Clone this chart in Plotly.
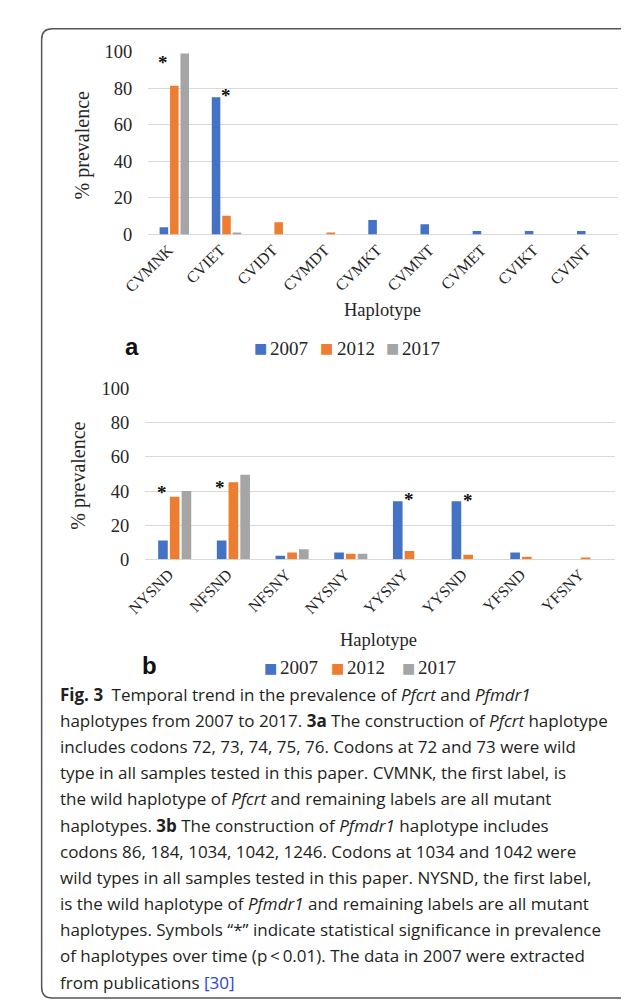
import plotly.graph_objects as go

# ---------------- data ----------------
years = ["2007", "2012", "2017"]
colors = ["#4472C4", "#ED7D31", "#A5A5A5"]

hap_a = ["CVMNK", "CVIET", "CVIDT", "CVMDT", "CVMKT", "CVMNT", "CVMET", "CVIKT", "CVINT"]
a_2007 = [4, 75, 0, 0, 8, 5.6, 2, 2, 2]
a_2012 = [81.3, 10.3, 6.7, 1, 0, 0, 0, 0, 0]
a_2017 = [99, 1, 0, 0, 0, 0, 0, 0, 0]

hap_b = ["NYSND", "NFSND", "NFSNY", "NYSNY", "YYSNY", "YYSND", "YFSND", "YFSNY"]
b_2007 = [11, 11, 2.1, 4, 34.1, 34.1, 4, 0]
b_2012 = [36.6, 45.2, 4, 3.3, 4.8, 2.7, 1.5, 1]
b_2017 = [40, 49.6, 5.9, 3.3, 0, 0, 0, 0]

# significance markers: (haplotype, bar offset within group, height)
sig_a = [("CVMNK", -1, 96.6), ("CVIET", 0, 79)]
sig_b = [("NYSND", -1, 42), ("NFSND", -1, 44.8), ("YYSNY", 0, 38), ("YYSND", 0, 37.4)]

y_ticks = [0, 20, 40, 60, 80, 100]

caption_lines = [
    "<b>Fig. 3</b>\u2002Temporal trend in the prevalence of <i>Pfcrt</i> and <i>Pfmdr1</i>",
    "haplotypes from 2007 to 2017. <b>3a</b> The construction of <i>Pfcrt</i> haplotype",
    "includes codons 72, 73, 74, 75, 76. Codons at 72 and 73 were wild",
    "type in all samples tested in this paper. CVMNK, the first label, is",
    "the wild haplotype of <i>Pfcrt</i> and remaining labels are all mutant",
    "haplotypes. <b>3b</b> The construction of <i>Pfmdr1</i> haplotype includes",
    "codons 86, 184, 1034, 1042, 1246. Codons at 1034 and 1042 were",
    "wild types in all samples tested in this paper. NYSND, the first label,",
    "is the wild haplotype of <i>Pfmdr1</i> and remaining labels are all mutant",
    "haplotypes. Symbols \u201c*\u201d indicate statistical significance in prevalence",
    "of haplotypes over time (p\u2009<\u20090.01). The data in 2007 were extracted",
    "from publications <span style='color:#2B45D6'>[30]</span>",
]

# ---------------- layout helpers ----------------
W, H = 629, 1002
def px(x):
    return x / W
def py(y):
    return 1 - y / H

SERIF = "Liberation Serif, Times New Roman, serif"
SANS = "Open Sans, Noto Sans, sans-serif"
TXT = "#262626"

fig = go.Figure()

for yr, col, vals in zip(years, colors, [a_2007, a_2012, a_2017]):
    fig.add_trace(go.Bar(x=hap_a, y=vals, name=yr, marker=dict(color=col, line=dict(width=0)),
                         xaxis="x", yaxis="y", showlegend=False, hoverinfo="skip"))
for yr, col, vals in zip(years, colors, [b_2007, b_2012, b_2017]):
    fig.add_trace(go.Bar(x=hap_b, y=vals, name=yr, marker=dict(color=col, line=dict(width=0)),
                         xaxis="x2", yaxis="y2", showlegend=False, hoverinfo="skip"))

xcommon = dict(type="category", tickangle=-45, showgrid=False, showline=False, ticks="",
               zeroline=False, ticklabelshift=-6, ticklabelstandoff=2,
               tickfont=dict(family=SERIF, size=16, color=TXT))
ycommon = dict(range=[0, 100], tickvals=y_ticks, showgrid=True, gridcolor="#d9d9d9", gridwidth=1.3,
               zeroline=True, zerolinecolor="#d9d9d9", zerolinewidth=1.3, showline=False, ticks="",
               ticklabelstandoff=15, tickfont=dict(family=SERIF, size=18.5, color=TXT), fixedrange=True)

fig.update_layout(
    width=W, height=H, margin=dict(l=0, r=0, t=0, b=0),
    paper_bgcolor="white", plot_bgcolor="white",
    barmode="group", bargap=0.4, bargroupgap=0.18,
    xaxis=dict(domain=[px(120), px(609)], anchor="y", **xcommon),
    yaxis=dict(domain=[py(221), py(34.3)], anchor="x", **ycommon),
    xaxis2=dict(domain=[px(117), px(606)], anchor="y2", **xcommon),
    yaxis2=dict(domain=[py(552.3), py(378.3)], anchor="x2", **ycommon),
)

ann = []
# significance asterisks
pitch = 0.22
for lst, hx, xa, ya in [(sig_a, hap_a, "x", "y"), (sig_b, hap_b, "x2", "y2")]:
    for h, off, v in lst:
        ann.append(dict(x=hx.index(h) + off * pitch, y=v, xref=xa, yref=ya, text="<b>*</b>",
                        xanchor="center", yanchor="middle",
                        showarrow=False, yshift=-5, font=dict(family=SERIF, size=19, color="#111")))

def pann(cx, cy, text, font, **kw):
    d = dict(x=px(cx), y=py(cy), xref="paper", yref="paper", text=text, showarrow=False,
             xanchor="center", yanchor="middle", font=font)
    d.update(kw)
    ann.append(d)

# axis titles
for (cx, cy) in [(51, 130), (48, 467)]:
    pann(cx, cy, "% prevalence", dict(family=SERIF, size=20, color=TXT), textangle=-90)
for (cx, cy) in [(364, 298), (360, 635)]:
    pann(cx, cy, "Haplotype", dict(family=SERIF, size=18.5, color=TXT))

# panel letters
for (cx, cy, t) in [(103, 335, "a"), (121, 661, "b")]:
    pann(cx, cy, "<b>%s</b>" % t, dict(family="Liberation Sans, Arial, sans-serif", size=24, color="#111"))

# legends
legend_pos = [(337, [237, 306, 374]), (663, [247, 317, 391])]
for ly, xs in legend_pos:
    for yr, col, sx in zip(years, colors, xs):
        pann(sx, ly, "\u25A0", dict(family="DejaVu Sans", size=14, color=col))
        pann(sx + 8, ly, yr, dict(family=SERIF, size=19, color=TXT), xanchor="left")

# caption
for i, line in enumerate(caption_lines):
    pann(26, 690 + 26.7 * i, line, dict(family=SANS, size=17, color="#231F20"),
         xanchor="left", align="left")

fig.update_layout(annotations=ann)

# rounded frame
def rr(x0, y0, x1, y1, r):
    return (f"M {px(x0 + r)},{py(y0)} L {px(x1 - r)},{py(y0)} Q {px(x1)},{py(y0)} {px(x1)},{py(y0 + r)} "
            f"L {px(x1)},{py(y1 - r)} Q {px(x1)},{py(y1)} {px(x1 - r)},{py(y1)} "
            f"L {px(x0 + r)},{py(y1)} Q {px(x0)},{py(y1)} {px(x0)},{py(y1 - r)} "
            f"L {px(x0)},{py(y0 + r)} Q {px(x0)},{py(y0)} {px(x0 + r)},{py(y0)} Z")

fig.add_shape(type="path", xref="paper", yref="paper", path=rr(9, 11, 626, 1000, 11),
              line=dict(color="#555555", width=1.5), fillcolor="rgba(0,0,0,0)")

fig.write_html("out.html")
